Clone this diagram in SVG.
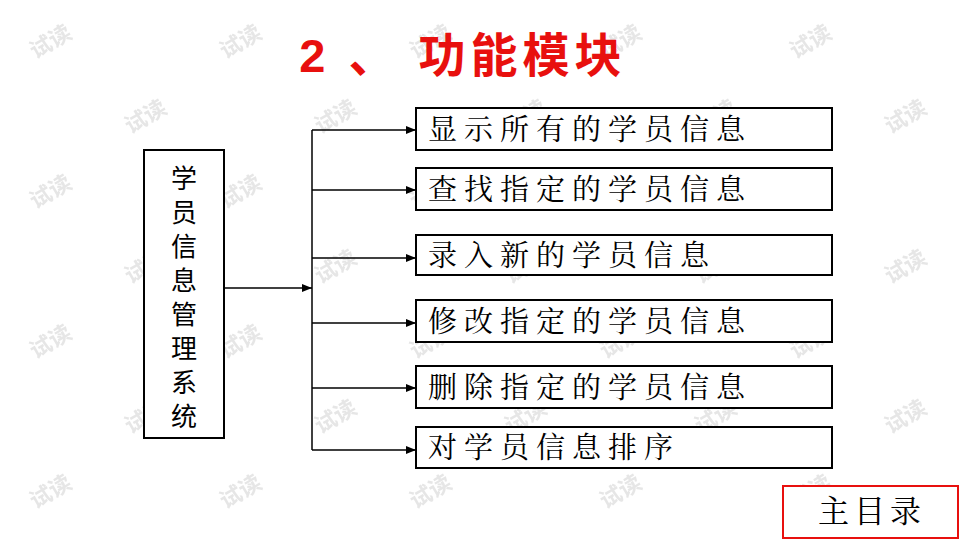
<svg xmlns="http://www.w3.org/2000/svg" width="960" height="540" viewBox="0 0 960 540">
<style>
text{font-family:"Liberation Sans","Noto Sans CJK SC",sans-serif}
.box{fill:#fff;stroke:#000;stroke-width:2}
.lbl{font-size:29px;fill:#000;letter-spacing:7px;font-family:"Noto Serif CJK SC","Liberation Serif","Noto Sans CJK SC",serif}
.vt{font-size:26px;fill:#000;font-family:"Noto Sans CJK SC",sans-serif}
.ln{stroke:#000;stroke-width:1.5;fill:none}
.wm{font-size:22px;fill:#e6e6e6;font-weight:bold}
</style>
<defs>
<marker id="ar" markerWidth="10" markerHeight="8" refX="10" refY="4" orient="auto" markerUnits="userSpaceOnUse"><path d="M0,0L10,4L0,8z" fill="#000"/></marker>
<pattern id="wm" width="190" height="150" patternUnits="userSpaceOnUse">
<text class="wm" x="30" y="50" transform="rotate(-30 50 45)">试读</text>
<text class="wm" x="125" y="125" transform="rotate(-30 145 120)">试读</text>
</pattern>
</defs>
<rect width="960" height="540" fill="#fff"/>
<rect width="960" height="540" fill="url(#wm)"/>
<text x="463" y="72" text-anchor="middle" font-size="47" font-weight="bold" fill="#e8100e" letter-spacing="5">2 、 功能模块</text>
<g id="connectors">
<line class="ln" x1="224" y1="288" x2="312" y2="288" marker-end="url(#ar)"/>
<line class="ln" x1="312" y1="130" x2="312" y2="450"/>
<line class="ln" x1="312" y1="130" x2="416" y2="130" marker-end="url(#ar)"/>
<line class="ln" x1="312" y1="190" x2="416" y2="190" marker-end="url(#ar)"/>
<line class="ln" x1="312" y1="258" x2="416" y2="258" marker-end="url(#ar)"/>
<line class="ln" x1="312" y1="323" x2="416" y2="323" marker-end="url(#ar)"/>
<line class="ln" x1="312" y1="388" x2="416" y2="388" marker-end="url(#ar)"/>
<line class="ln" x1="312" y1="450" x2="416" y2="450" marker-end="url(#ar)"/>
</g>
<g id="root"><rect class="box" x="144" y="150" width="80" height="288"/>
<text class="vt" text-anchor="middle"><tspan x="184" y="188">学</tspan><tspan x="184" y="222">员</tspan><tspan x="184" y="256">信</tspan><tspan x="184" y="290">息</tspan><tspan x="184" y="324">管</tspan><tspan x="184" y="358">理</tspan><tspan x="184" y="392">系</tspan><tspan x="184" y="426">统</tspan></text></g>
<g id="n1"><rect class="box" x="416" y="108" width="416" height="42"/><text class="lbl" x="428" y="140">显示所有的学员信息</text></g>
<g id="n2"><rect class="box" x="416" y="168" width="416" height="42"/><text class="lbl" x="428" y="200">查找指定的学员信息</text></g>
<g id="n3"><rect class="box" x="416" y="235" width="416" height="40"/><text class="lbl" x="428" y="266">录入新的学员信息</text></g>
<g id="n4"><rect class="box" x="416" y="300" width="416" height="42"/><text class="lbl" x="428" y="332">修改指定的学员信息</text></g>
<g id="n5"><rect class="box" x="416" y="366" width="416" height="42"/><text class="lbl" x="428" y="398">删除指定的学员信息</text></g>
<g id="n6"><rect class="box" x="416" y="427" width="416" height="41"/><text class="lbl" x="428" y="458">对学员信息排序</text></g>
<g id="home"><rect x="783" y="486" width="175" height="52" fill="#fff" stroke="#e8100e" stroke-width="2"/><text class="lbl" x="818" y="522" style="letter-spacing:5px;font-size:31px">主目录</text></g>
</svg>
